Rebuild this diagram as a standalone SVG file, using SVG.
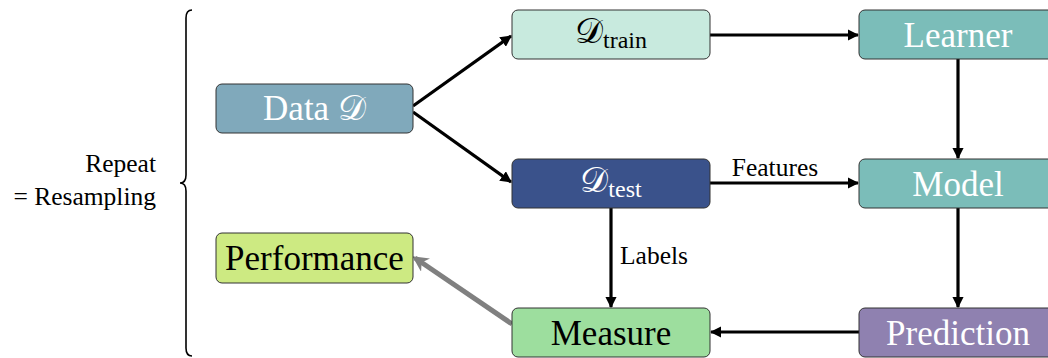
<svg xmlns="http://www.w3.org/2000/svg" width="1048" height="358" viewBox="0 0 1048 358">
  <defs>
    <marker id="ah" viewBox="0 0 10 10" refX="9" refY="5" markerWidth="3.6" markerHeight="3.6" markerUnits="strokeWidth" orient="auto">
      <path d="M0,0 L10,5 L0,10 z" fill="#000"/>
    </marker>
    <marker id="ahg" viewBox="0 0 10 10" refX="8" refY="5" markerWidth="3.2" markerHeight="3.2" markerUnits="strokeWidth" orient="auto">
      <path d="M0,0 L10,5 L0,10 L3,5 z" fill="#808080"/>
    </marker>
    <style>
      .box { stroke: #333; stroke-width: 1; }
      .lbl { font-size: 35px; text-anchor: middle; }
      .sub { font-size: 24px; }
      .small { font-size: 25.5px; }
      .edge { stroke: #000; stroke-width: 3.2; fill: none; marker-end: url(#ah); }
    </style>
  </defs>
  <rect width="1048" height="358" fill="#fff"/>

  <!-- brace and caption -->
  <g id="repeat">
    <path d="M192,10 Q186,10 186,18 L186,175 Q186,183 180,183 Q186,183 186,191 L186,348 Q186,356 192,356" fill="none" stroke="#000" stroke-width="1.6"/>
    <text class="small" font-family="Liberation Serif" x="156" y="172" text-anchor="end">Repeat</text>
    <text class="small" font-family="Liberation Serif" x="156" y="205" text-anchor="end">= Resampling</text>
  </g>

  <!-- connectors -->
  <g id="connectors">
    <line class="edge" x1="413" y1="106" x2="511" y2="36"/>
    <line class="edge" x1="413" y1="112" x2="511" y2="182"/>
    <line class="edge" x1="710" y1="35" x2="858" y2="35"/>
    <line class="edge" x1="710" y1="183" x2="858" y2="183"/>
    <text class="small" font-family="Liberation Serif" x="775" y="176" text-anchor="middle">Features</text>
    <line class="edge" x1="958" y1="59" x2="958" y2="158"/>
    <line class="edge" x1="958" y1="208" x2="958" y2="307"/>
    <line class="edge" x1="859" y1="332" x2="711" y2="332"/>
    <line class="edge" x1="611" y1="208" x2="611" y2="307"/>
    <text class="small" font-family="Liberation Serif" x="620" y="264">Labels</text>
    <line x1="512" y1="324" x2="415" y2="258" stroke="#808080" stroke-width="5" marker-end="url(#ahg)"/>
  </g>

  <!-- nodes -->
  <g id="data">
    <rect class="box" x="216" y="84" width="197" height="49" rx="6" fill="#80A9BB"/>
    <text class="lbl" font-family="Liberation Serif" x="314.5" y="120" fill="#fff">Data 𝒟</text>
  </g>
  <g id="dtrain">
    <rect class="box" x="512" y="10" width="198" height="49" rx="6" fill="#C8EADE"/>
    <text class="lbl" font-family="Liberation Serif" x="611" y="43" fill="#000">𝒟<tspan class="sub" dy="5">train</tspan></text>
  </g>
  <g id="dtest">
    <rect class="box" x="512" y="159" width="198" height="49" rx="6" fill="#3A528B"/>
    <text class="lbl" font-family="Liberation Serif" x="611" y="192" fill="#fff">𝒟<tspan class="sub" dy="5">test</tspan></text>
  </g>
  <g id="learner">
    <rect class="box" x="859" y="10" width="200" height="49" rx="6" fill="#7BBDB9"/>
    <text class="lbl" font-family="Liberation Serif" x="958" y="47" fill="#fff">Learner</text>
  </g>
  <g id="model">
    <rect class="box" x="859" y="159" width="200" height="49" rx="6" fill="#7BBDB9"/>
    <text class="lbl" font-family="Liberation Serif" x="958" y="196" fill="#fff">Model</text>
  </g>
  <g id="prediction">
    <rect class="box" x="859" y="308" width="200" height="49" rx="6" fill="#8F81B0"/>
    <text class="lbl" font-family="Liberation Serif" x="958" y="345" fill="#fff">Prediction</text>
  </g>
  <g id="measure">
    <rect class="box" x="512" y="308" width="198" height="49" rx="6" fill="#9DDE9E"/>
    <text class="lbl" font-family="Liberation Serif" x="611" y="345" fill="#000">Measure</text>
  </g>
  <g id="performance">
    <rect class="box" x="216" y="233" width="197" height="50" rx="6" fill="#CDEA82"/>
    <text class="lbl" font-family="Liberation Serif" x="314.5" y="270" fill="#000">Performance</text>
  </g>
</svg>
